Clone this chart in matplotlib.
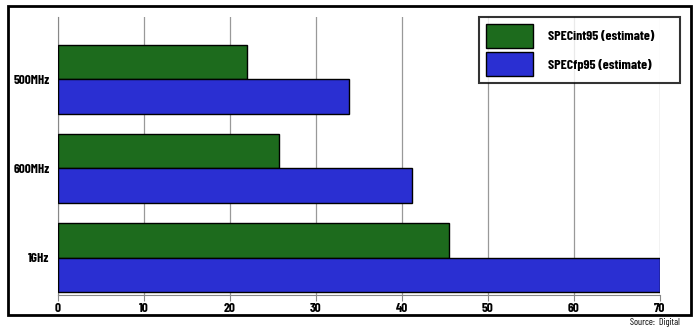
import matplotlib
matplotlib.use("Agg")
from matplotlib import pyplot as plt
from matplotlib.patches import Rectangle
import numpy as np

# Datos del grafico
categorias = ["500MHz", "600MHz", "1GHz"]
specint = [22.0, 25.7, 45.5]
specfp = [33.8, 41.2, 70.0]
ticks_x = [0, 10, 20, 30, 40, 50, 60, 70]
etiquetas = ["SPECint95 (estimate)", "SPECfp95 (estimate)"]

verde = "#1d6b1d"
azul = "#2a2fd2"
fuente = ["Barlow Condensed", "Liberation Sans Narrow", "DejaVu Sans"]

fig = plt.figure(figsize=(7.0, 3.29), dpi=100)
W, H = 700, 329
ax = fig.add_axes([58 / W, 1 - 295 / H, (660 - 58) / W, (295 - 17) / H])

y = np.arange(len(categorias))
h = 0.39
b1 = ax.barh(y - h / 2, specint, height=h, color=verde, edgecolor="black", linewidth=1, zorder=3)
b2 = ax.barh(y + h / 2, specfp, height=h, color=azul, edgecolor="black", linewidth=1, zorder=3)

ax.set_xlim(0, 70)
ax.set_ylim(2.42, -0.70)
ax.set_xticks(ticks_x)
ax.set_xticklabels([str(t) for t in ticks_x], family=fuente, fontweight="bold", fontsize=9.5)
ax.set_yticks(y)
ax.set_yticklabels(categorias, family=fuente, fontweight="bold", fontsize=9.5)
ax.tick_params(axis="y", length=0, pad=6)
ax.tick_params(axis="x", length=4, color="#888888", pad=2)
ax.grid(axis="x", color="#999999", linewidth=0.9, zorder=0)
ax.set_axisbelow(True)
for s in ["top", "right"]:
    ax.spines[s].set_visible(False)
ax.spines["left"].set_color("#888888")
ax.spines["bottom"].set_color("#888888")

leg = ax.legend([b1, b2], etiquetas, loc="upper left",
                bbox_to_anchor=(479 / W, 1 - 81 / H, (680 - 479) / W, 64 / H),
                bbox_transform=fig.transFigure, mode="expand", frameon=True, fancybox=False,
                edgecolor="black", handlelength=3.4, handleheight=2.3,
                prop={"family": fuente, "weight": "bold", "size": 10},
                borderpad=0.5, labelspacing=0.3, handletextpad=1.1, borderaxespad=0)
leg.get_frame().set_linewidth(1.5)
leg.set_zorder(5)

# Marco exterior
fig.patches.append(Rectangle((8 / W, 1 - 315 / H), (691 - 8) / W, (315 - 6) / H, transform=fig.transFigure,
                             fill=False, edgecolor="black", linewidth=2))
fig.text(680 / W, 1 - 322.5 / H, "Source:  Digital", ha="right", va="center", family=fuente, fontsize=7)

fig.savefig("out.png", dpi=100)
